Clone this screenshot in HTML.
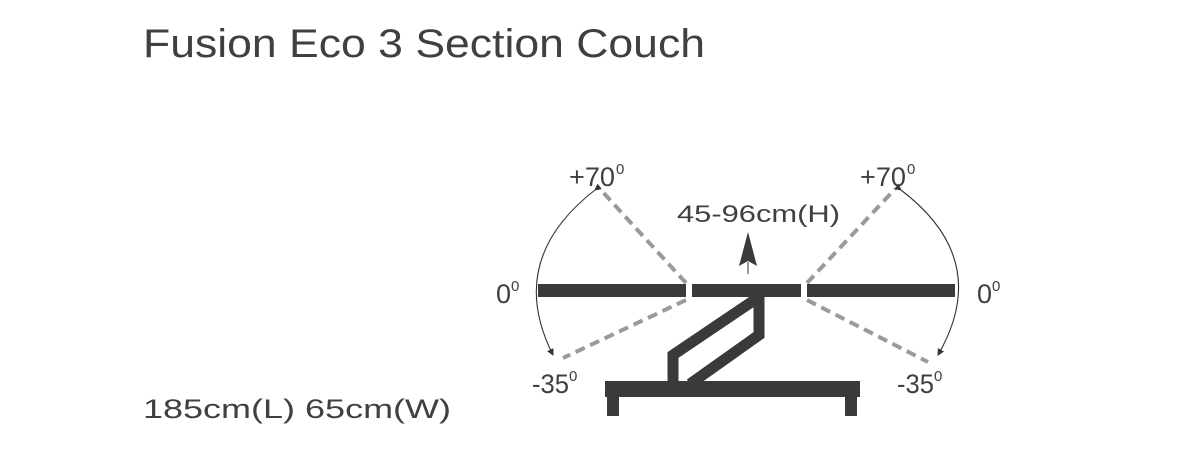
<!DOCTYPE html>
<html><head><meta charset="utf-8"><style>
html,body{margin:0;padding:0;background:#fff;}
svg{display:block;}
text{font-family:"Liberation Sans",sans-serif;fill:#404040;}
</style></head><body>
<svg width="1186" height="453" viewBox="0 0 1186 453" xmlns="http://www.w3.org/2000/svg">
<defs>
<marker id="ah" markerWidth="7" markerHeight="7" refX="6" refY="3.5" orient="auto" markerUnits="userSpaceOnUse">
<path d="M0,0 L7,3.5 L0,7 z" fill="#333"/>
</marker>
</defs>
<text x="143" y="57" font-size="40" textLength="562" lengthAdjust="spacingAndGlyphs">Fusion Eco 3 Section Couch</text>
<text x="143" y="418" font-size="27" textLength="308" lengthAdjust="spacingAndGlyphs">185cm(L) 65cm(W)</text>

<g stroke="#9a9a9a" stroke-width="4" stroke-dasharray="10 6" fill="none">
<line x1="686" y1="283" x2="600" y2="189"/>
<line x1="686" y1="300" x2="563" y2="358"/>
<line x1="807" y1="283" x2="895" y2="189"/>
<line x1="807" y1="300" x2="928" y2="362"/>
</g>

<g stroke="#333" stroke-width="1.1" fill="none">
<path d="M595,190 Q505,260 553,355" marker-start="url(#ah)" marker-end="url(#ah)"/>
<path d="M901,190 Q993,260 938,355" marker-start="url(#ah)" marker-end="url(#ah)"/>
</g>

<g fill="#3a3a3a">
<rect x="538" y="284" width="148" height="13"/>
<rect x="692" y="284" width="109" height="13"/>
<rect x="807" y="284" width="148" height="13"/>
<rect x="605" y="381" width="255" height="16"/>
<rect x="607" y="397" width="12" height="19"/>
<rect x="845" y="397" width="12" height="19"/>
</g>
<polyline points="673,381 673,355 753,301 759,301 759,335 690,384" fill="none" stroke="#3a3a3a" stroke-width="11" stroke-linejoin="miter"/>

<line x1="748" y1="262" x2="748" y2="274" stroke="#333" stroke-width="1"/>
<path d="M748,232 L757,266 L748,261 L739,266 z" fill="#3a3a3a"/>

<text x="677" y="222" font-size="24" textLength="163" lengthAdjust="spacingAndGlyphs">45-96cm(H)</text>
<text x="569" y="186" font-size="27" textLength="46" lengthAdjust="spacingAndGlyphs">+70</text><text x="616" y="174" font-size="15">0</text>
<text x="860" y="186" font-size="27" textLength="46" lengthAdjust="spacingAndGlyphs">+70</text><text x="907" y="174" font-size="15">0</text>
<text x="496" y="303" font-size="27">0</text><text x="511" y="291" font-size="15">0</text>
<text x="977" y="303" font-size="27">0</text><text x="992" y="291" font-size="15">0</text>
<text x="532" y="393" font-size="27" textLength="37" lengthAdjust="spacingAndGlyphs">-35</text><text x="569" y="381" font-size="15">0</text>
<text x="897" y="393" font-size="27" textLength="37" lengthAdjust="spacingAndGlyphs">-35</text><text x="934" y="381" font-size="15">0</text>
</svg>
</body></html>
